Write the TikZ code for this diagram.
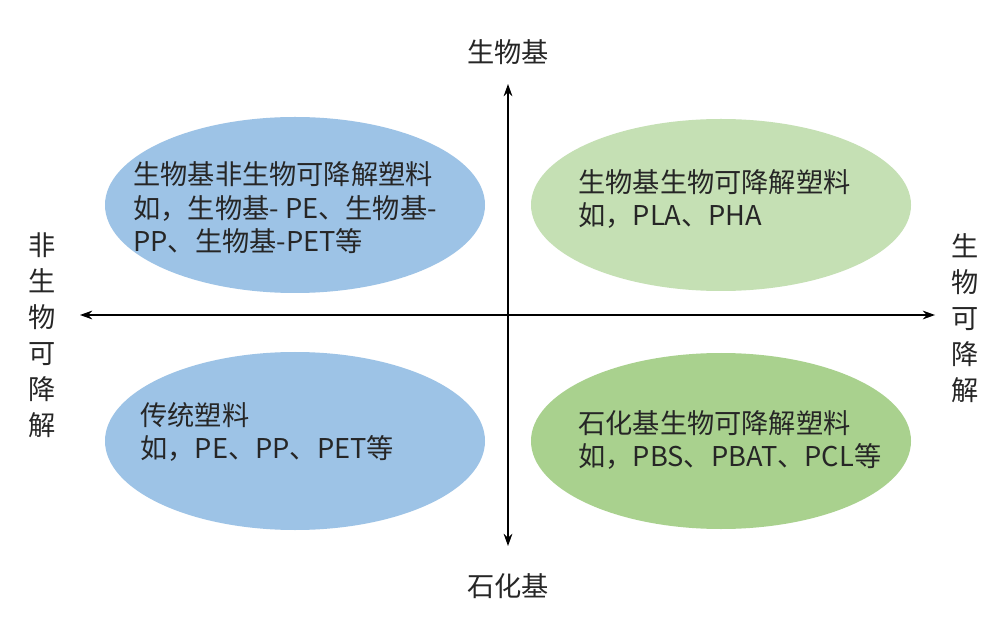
\documentclass[tikz,border=0pt]{standalone}
\usepackage{fontspec}
\setmainfont{Noto Sans CJK SC}[BoldFont={Noto Sans CJK SC Bold}]
\usetikzlibrary{arrows.meta}
\definecolor{eblue}{HTML}{9DC3E6}
\definecolor{egreenl}{HTML}{C5E0B4}
\definecolor{egreen}{HTML}{A9D18E}
\begin{document}
\begin{tikzpicture}[x=0.02cm,y=-0.02cm,
  txt/.style={anchor=west,align=left,font=\fontsize{15.5}{19}\selectfont,inner sep=0pt,text=black!85},
  lab/.style={font=\fontsize{15.5}{20.5}\selectfont,align=center,inner sep=0pt,text=black!85},
  axis/.style={{Stealth[length=7pt,width=5pt]}-{Stealth[length=7pt,width=5pt]},line width=0.8pt}]
\useasboundingbox (0,0) rectangle (1006,634);
\fill[white] (0,0) rectangle (1006,634);
\fill[eblue] (295,205) ellipse [x radius=190, y radius=88];
\fill[egreenl] (721,205) ellipse [x radius=190, y radius=86];
\fill[eblue] (295,441) ellipse [x radius=190, y radius=89];
\fill[egreen] (721,441) ellipse [x radius=190, y radius=88];
\coordinate (t) at (508,84); \coordinate (b) at (508,546);
\coordinate (l) at (80,315); \coordinate (r) at (935,315);
\draw[axis] (b) -- (t);
\draw[axis] (l) -- (r);
\node[lab] (n1) at (508,52) {生物基};
\node[lab] (n2) at (508,586) {石化基};
\node[lab] (n3) at (42,335) {非\\生\\物\\可\\降\\解};
\node[lab] (n4) at (965,318) {生\\物\\可\\降\\解};
\node[txt] (a) at (133,208) {生物基非生物可降解塑料\\如，生物基- PE、生物基-\\PP、生物基-PET等};
\node[txt] (c) at (578,199) {生物基生物可降解塑料\\如，PLA、PHA};
\node[txt] (d) at (140,432) {传统塑料\\如，PE、PP、PET等};
\node[txt] (e) at (578,440) {石化基生物可降解塑料\\如，PBS、PBAT、PCL等};
\end{tikzpicture}
\end{document}
